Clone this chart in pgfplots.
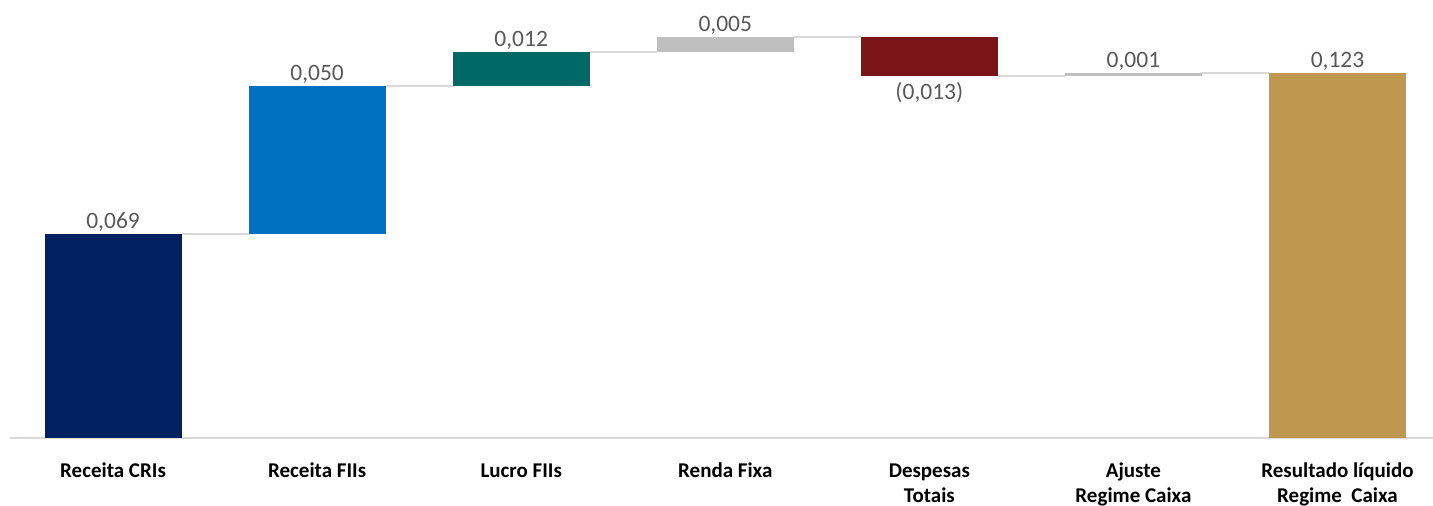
\documentclass[border=0pt]{standalone}
\usepackage{pgfplots}
\pgfplotsset{compat=1.18}
\usepackage{pgfplotstable}
\usepackage{fontspec}
\setmainfont{Carlito}
\definecolor{cNavy}{HTML}{002060}
\definecolor{cBlue}{HTML}{0070C0}
\definecolor{cTeal}{HTML}{006966}
\definecolor{cGray}{HTML}{BFBFBF}
\definecolor{cRed}{HTML}{7B1416}
\definecolor{cGold}{HTML}{BF984F}
\definecolor{cAxis}{HTML}{D9D9D9}
\definecolor{cLabel}{HTML}{595959}

\pgfplotstableread{
x base crisv fiisv lucrov rendav despv ajustev resv
0 0      0.069  0      0      0      0      0      0
1 0.069  0      0.0503 0      0      0      0      0
2 0.1193 0      0      0.0117 0      0      0      0
3 0.1310 0      0      0      0.0049 0      0      0
4 0.1228 0      0      0      0      0.0131 0      0
5 0.1228 0      0      0      0      0      0.0010 0
6 0      0      0      0      0      0      0      0.1238
}\bars

\pgfplotstableread{
x y lab
0 0.069  0,069
1 0.1193 0,050
2 0.1310 0,012
3 0.1359 0,005
5 0.1238 0,001
6 0.1238 0,123
}\poslabels

\pgfplotstableread{
x y lab
4 0.1228 (0,013)
}\neglabels

\pgfplotsset{wf/.style={width=711.5pt, height=219pt, scale only axis,
  xmin=-0.505, xmax=6.468, ymin=0, ymax=0.14847, clip=false}}

\begin{document}
\begin{tikzpicture}
\begin{axis}[wf, ybar stacked, bar width=68.5pt,
  axis y line=none, axis x line=bottom,
  x axis line style={-, draw=cAxis, line width=1.25pt},
  xtick={0,1,2,3,4,5,6},
  xticklabels={{\strut Receita CRIs},{\strut Receita FIIs},{\strut Lucro FIIs},{\strut Renda Fixa},{\strut Despesas\\Totais},{\strut Ajuste\\Regime Caixa},{\strut Resultado líquido\\Regime\ \ Caixa}},
  xtick style={draw=none}, major tick length=0pt,
  xticklabel style={font=\bfseries\fontsize{10.5}{12.5}\selectfont, align=center, anchor=north, inner sep=0pt, yshift=-10.6pt, text=black}]
\addplot[draw=none, fill=none] table[x=x, y=base] {\bars};
\addplot[draw=none, fill=cNavy] table[x=x, y=crisv] {\bars};
\addplot[draw=none, fill=cBlue] table[x=x, y=fiisv] {\bars};
\addplot[draw=none, fill=cTeal] table[x=x, y=lucrov] {\bars};
\addplot[draw=none, fill=cGray] table[x=x, y=rendav] {\bars};
\addplot[draw=none, fill=cRed] table[x=x, y=despv] {\bars};
\addplot[draw=none, fill=cGray] table[x=x, y=ajustev] {\bars};
\addplot[draw=none, fill=cGold] table[x=x, y=resv] {\bars};
\end{axis}
\begin{axis}[wf, axis lines=none, ticks=none]
\addplot[cAxis, line width=1pt] coordinates {(0.336,0.069) (0.664,0.069)};
\addplot[cAxis, line width=1pt] coordinates {(1.336,0.1193) (1.664,0.1193)};
\addplot[cAxis, line width=1pt] coordinates {(2.336,0.1310) (2.664,0.1310)};
\addplot[cAxis, line width=1pt] coordinates {(3.336,0.1359) (3.664,0.1359)};
\addplot[cAxis, line width=1pt] coordinates {(4.336,0.1228) (4.664,0.1228)};
\addplot[cAxis, line width=1pt] coordinates {(5.336,0.1238) (5.664,0.1238)};
\addplot[draw=none, mark=none, nodes near coords, point meta=explicit symbolic,
  nodes near coords style={anchor=base, yshift=2.75pt, inner sep=0pt, text=cLabel, font=\fontsize{11.75}{14}\selectfont}]
  table[x=x, y=y, meta=lab] {\poslabels};
\addplot[draw=none, mark=none, nodes near coords, point meta=explicit symbolic,
  nodes near coords style={anchor=base, yshift=-11.65pt, inner sep=0pt, text=cLabel, font=\fontsize{11.75}{14}\selectfont}]
  table[x=x, y=y, meta=lab] {\neglabels};
\end{axis}
\pgfresetboundingbox
\path[use as bounding box] ([xshift=-5pt,yshift=-33.5pt]current axis.south west) rectangle (current axis.north east);
\end{tikzpicture}
\end{document}
